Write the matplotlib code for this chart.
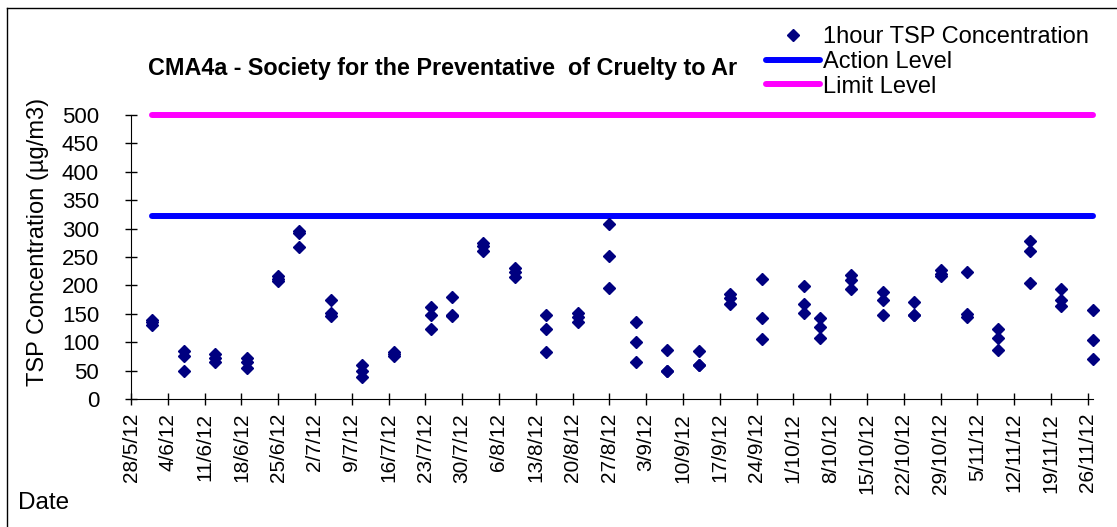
import pandas as pd
import matplotlib
matplotlib.use('Agg')
import matplotlib.pyplot as plt
from matplotlib.lines import Line2D

plt.rcParams['font.family'] = ['Liberation Sans', 'DejaVu Sans']

# sampling dates, up to three 1-hour readings each (ug/m3)
sample_dates = ['1/6/2012', '7/6/2012', '13/6/2012', '19/6/2012', '25/6/2012', '29/6/2012',
                '5/7/2012', '11/7/2012', '17/7/2012', '24/7/2012', '28/7/2012', '3/8/2012',
                '9/8/2012', '15/8/2012', '21/8/2012', '27/8/2012', '1/9/2012', '7/9/2012',
                '13/9/2012', '19/9/2012', '25/9/2012', '3/10/2012', '6/10/2012', '12/10/2012',
                '18/10/2012', '24/10/2012', '29/10/2012', '3/11/2012', '9/11/2012', '15/11/2012',
                '21/11/2012', '27/11/2012']
readings = [[139, 135, 130], [85, 76, 50], [80, 72, 65], [73, 66, 55], [217, 211, 207],
            [295, 292, 268], [175, 151, 147], [59, 50, 38], [83, 79, 76], [162, 148, 123],
            [180, 148, 147], [275, 270, 261], [230, 224, 215], [148, 124, 82], [151, 145, 135],
            [308, 251, 195], [136, 100, 65], [86, 49, 49], [84, 60, 60], [184, 177, 168],
            [212, 142, 106], [199, 168, 151], [142, 126, 107], [219, 210, 194], [188, 174, 148],
            [171, 148, 148], [227, 220, 217], [223, 149, 145], [124, 107, 86], [278, 261, 205],
            [194, 174, 164], [157, 104, 70]]
action_level = 323
limit_level = 500

axis_start = pd.Timestamp('2012-05-28')
axis_end = pd.Timestamp('2012-11-27')
tick_dates = pd.date_range(axis_start, periods=27, freq='7D')

x = []
y = []
for d, vals in zip(sample_dates, readings):
    for v in vals:
        x.append(pd.to_datetime(d, dayfirst=True))
        y.append(v)

fig = plt.figure(figsize=(11.17, 5.27), dpi=100)
ax = fig.add_axes([131 / 1117, 1 - 399 / 527, (1093 - 131) / 1117, (399 - 115) / 527])

line_x = [pd.to_datetime(sample_dates[0], dayfirst=True), axis_end]
ax.plot(line_x, [action_level, action_level], color='#0000FF', lw=4.3,
        solid_capstyle='round', clip_on=False, zorder=2)
ax.plot(line_x, [limit_level, limit_level], color='#FF00FF', lw=4.3,
        solid_capstyle='round', clip_on=False, zorder=2)
ax.plot(x, y, linestyle='none', marker='D', ms=6.6, color='#000080',
        clip_on=False, zorder=3)

ax.set_xlim(axis_start, axis_end)
ax.set_ylim(0, 500)
ax.set_yticks(range(0, 501, 50))
ax.set_xticks(tick_dates)
ax.set_xticklabels([f'{d.day}/{d.month}/{d.year % 100}' for d in tick_dates], rotation=90)
ax.tick_params(direction='inout', length=8, width=1)
ax.tick_params(axis='x', labelsize=15, pad=6)
ax.tick_params(axis='y', labelsize=16, pad=19)
for s in ['top', 'right']:
    ax.spines[s].set_visible(False)

fig.text(38 / 1117, 1 - 242 / 527, 'TSP Concentration (µg/m3)', rotation=90,
         ha='center', va='center', fontsize=17)
fig.text(443 / 1117, 1 - 68 / 527, 'CMA4a - Society for the Preventative  of Cruelty to Ar',
         ha='center', va='center', fontsize=16.8, fontweight='bold')
fig.text(18 / 1117, 1 - 503 / 527, 'Date', ha='left', va='center', fontsize=17.5)

handles = [Line2D([], [], linestyle='none', marker='D', ms=6, color='#000080'),
           Line2D([], [], color='#0000FF', lw=4.3, solid_capstyle='round'),
           Line2D([], [], color='#FF00FF', lw=4.3, solid_capstyle='round')]
fig.legend(handles, ['1hour TSP Concentration', 'Action Level', 'Limit Level'],
           loc='upper left', bbox_to_anchor=(766 / 1117, 1 - 26 / 527), frameon=False,
           fontsize=17, handlelength=2.3, handletextpad=0.12, labelspacing=0.12,
           borderaxespad=0, borderpad=0)

# outer chart border (cut off at right and bottom)
fig.add_artist(Line2D([7 / 1117, 7 / 1117], [0, 1 - 8 / 527], color='black', lw=1,
                      transform=fig.transFigure))
fig.add_artist(Line2D([7 / 1117, 1], [1 - 8 / 527, 1 - 8 / 527], color='black', lw=1,
                      transform=fig.transFigure))

fig.savefig('out.png', dpi=100)
